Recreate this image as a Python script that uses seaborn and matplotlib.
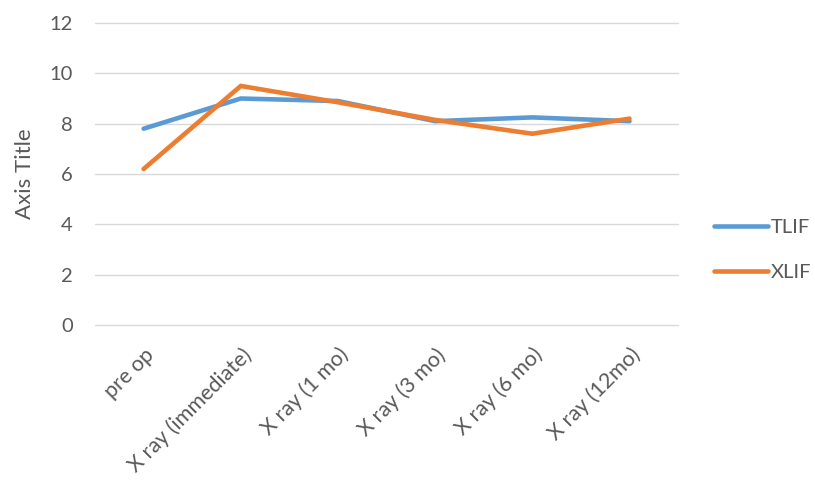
import matplotlib
matplotlib.use("Agg")
import matplotlib.pyplot as plt
import seaborn as sns
import pandas as pd

categories = ["pre op", "X ray (immediate)", "X ray (1 mo)", "X ray (3 mo)",
              "X ray (6 mo)", "X ray (12mo)"]
tlif = [7.8, 9.0, 8.9, 8.1, 8.25, 8.1]
xlif = [6.2, 9.5, 8.85, 8.15, 7.6, 8.2]
series_names = ["TLIF", "XLIF"]
colors = ["#5B9BD5", "#ED7D31"]
yticks = [0, 2, 4, 6, 8, 10, 12]

rows = []
for name, vals in zip(series_names, [tlif, xlif]):
    for i, (c, v) in enumerate(zip(categories, vals)):
        rows.append({"pos": i, "category": c, "value": v, "series": name})
df = pd.DataFrame(rows)

sns.set_theme(style="white")
plt.rcParams["font.family"] = ["Lato", "DejaVu Sans"]

text_color = "#595959"

fig = plt.figure(figsize=(8.15, 4.8), dpi=100)
ax = fig.add_axes([0.1166, 0.323, 0.7154, 0.629])

sns.lineplot(data=df, x="pos", y="value", hue="series", palette=colors,
             linewidth=3.3, ax=ax, legend=True)
for ln in ax.get_lines():
    ln.set_solid_capstyle("round")
    ln.set_solid_joinstyle("miter")

ax.set_xlim(-0.5, len(categories) - 0.5)
ax.set_ylim(0, 12)
ax.set_yticks(yticks)
ax.set_yticklabels([str(t) for t in yticks])
ax.set_xticks(range(len(categories)))
ax.set_xticklabels(categories, rotation=45, ha="right", rotation_mode="anchor")

ax.grid(axis="y", color="#D9D9D9", linewidth=1.0)
ax.set_axisbelow(True)
for gl in ax.get_ygridlines():
    gl.set_clip_on(False)
for s in ax.spines.values():
    s.set_visible(False)
ax.tick_params(axis="both", length=0, labelcolor=text_color)
ax.tick_params(axis="y", pad=16, labelsize=14.5)
ax.tick_params(axis="x", pad=14, labelsize=15.5)

ax.set_xlabel("")
ax.set_ylabel("Axis Title", fontsize=16, color=text_color)
ax.yaxis.set_label_coords(-0.103, 0.5)

handles, labels = ax.get_legend_handles_labels()
leg = ax.legend(handles, labels, loc="center left",
                bbox_to_anchor=(714 / 815, 1 - 250 / 480),
                bbox_transform=fig.transFigure,
                frameon=False, fontsize=14.5, handlelength=2.69,
                handletextpad=0.15, labelspacing=1.42,
                borderaxespad=0, borderpad=0, labelcolor=text_color)
for h in leg.get_lines():
    h.set_linewidth(3.3)
    h.set_solid_capstyle("round")

fig.savefig("out.png", dpi=100, facecolor="white")
